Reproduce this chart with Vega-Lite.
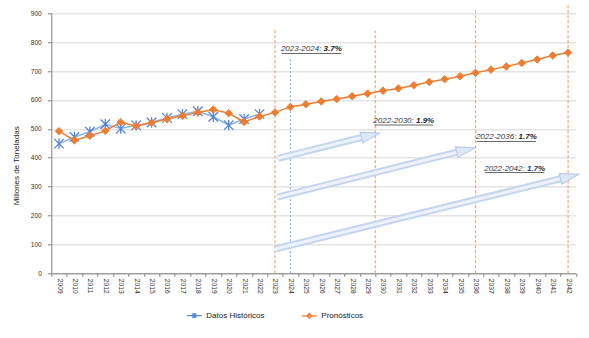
{
  "$schema": "https://vega.github.io/schema/vega-lite/v6.json",
  "width": 524.5,
  "height": 260,
  "autosize": "none",
  "padding": {"left": 51.3, "top": 13.3, "right": 13.2, "bottom": 64.7},
  "background": "white",
  "config": {
    "view": {"stroke": null},
    "font": "Liberation Sans",
    "axis": {"labelFont": "Liberation Sans", "titleFont": "Liberation Sans"},
    "legend": {"labelFont": "Liberation Sans"},
    "text": {"font": "Liberation Sans"}
  },
  "resolve": {"axis": {"x": "independent", "y": "independent"}},
  "datasets": {
    "series": [
      {"year": 2009, "series": "Datos Históricos", "value": 449},
      {"year": 2010, "series": "Datos Históricos", "value": 472},
      {"year": 2011, "series": "Datos Históricos", "value": 490},
      {"year": 2012, "series": "Datos Históricos", "value": 516},
      {"year": 2013, "series": "Datos Históricos", "value": 501},
      {"year": 2014, "series": "Datos Históricos", "value": 512},
      {"year": 2015, "series": "Datos Históricos", "value": 522},
      {"year": 2016, "series": "Datos Históricos", "value": 538},
      {"year": 2017, "series": "Datos Históricos", "value": 551},
      {"year": 2018, "series": "Datos Históricos", "value": 561},
      {"year": 2019, "series": "Datos Históricos", "value": 542},
      {"year": 2020, "series": "Datos Históricos", "value": 513},
      {"year": 2021, "series": "Datos Históricos", "value": 534},
      {"year": 2022, "series": "Datos Históricos", "value": 551},
      {"year": 2009, "series": "Pronósticos", "value": 492},
      {"year": 2010, "series": "Pronósticos", "value": 460},
      {"year": 2011, "series": "Pronósticos", "value": 476},
      {"year": 2012, "series": "Pronósticos", "value": 493},
      {"year": 2013, "series": "Pronósticos", "value": 523},
      {"year": 2014, "series": "Pronósticos", "value": 510},
      {"year": 2015, "series": "Pronósticos", "value": 521},
      {"year": 2016, "series": "Pronósticos", "value": 534},
      {"year": 2017, "series": "Pronósticos", "value": 545},
      {"year": 2018, "series": "Pronósticos", "value": 557},
      {"year": 2019, "series": "Pronósticos", "value": 567},
      {"year": 2020, "series": "Pronósticos", "value": 554},
      {"year": 2021, "series": "Pronósticos", "value": 524},
      {"year": 2022, "series": "Pronósticos", "value": 543},
      {"year": 2023, "series": "Pronósticos", "value": 557},
      {"year": 2024, "series": "Pronósticos", "value": 576},
      {"year": 2025, "series": "Pronósticos", "value": 585},
      {"year": 2026, "series": "Pronósticos", "value": 595},
      {"year": 2027, "series": "Pronósticos", "value": 603},
      {"year": 2028, "series": "Pronósticos", "value": 613},
      {"year": 2029, "series": "Pronósticos", "value": 622},
      {"year": 2030, "series": "Pronósticos", "value": 632},
      {"year": 2031, "series": "Pronósticos", "value": 640},
      {"year": 2032, "series": "Pronósticos", "value": 651},
      {"year": 2033, "series": "Pronósticos", "value": 662},
      {"year": 2034, "series": "Pronósticos", "value": 672},
      {"year": 2035, "series": "Pronósticos", "value": 682},
      {"year": 2036, "series": "Pronósticos", "value": 694},
      {"year": 2037, "series": "Pronósticos", "value": 705},
      {"year": 2038, "series": "Pronósticos", "value": 716},
      {"year": 2039, "series": "Pronósticos", "value": 728},
      {"year": 2040, "series": "Pronósticos", "value": 740},
      {"year": 2041, "series": "Pronósticos", "value": 754},
      {"year": 2042, "series": "Pronósticos", "value": 764}
    ],
    "vlines": [
      {"year": 2023, "kind": "orange", "bottom": 0, "top": 848},
      {"year": 2029.5, "kind": "orange", "bottom": 0, "top": 840},
      {"year": 2036, "kind": "orange", "bottom": 0, "top": 911},
      {"year": 2042, "kind": "orange", "bottom": 0, "top": 929},
      {"year": 2024, "kind": "blue", "bottom": 0, "top": 744}
    ],
    "arrows": [
      {"year": 2023.2, "value": 398, "year2": 2028.61, "value2": 470.1, "tipYear": 2029.8, "tipValue": 486},
      {"year": 2023.16, "value": 264, "year2": 2034.79, "value2": 419.1, "tipYear": 2035.98, "tipValue": 435},
      {"year": 2023.07, "value": 85, "year2": 2041.51, "value2": 327.3, "tipYear": 2042.7, "tipValue": 343}
    ],
    "labels": [
      {"id": "A", "lead": "2023-2024:", "num": "3.7%", "year": 2026.15, "value": 767.8, "uStart": 2023.44, "uEnd": 2027.31, "uValue": 760.8},
      {"id": "B", "lead": "2022-2030:", "num": "1.9%", "year": 2032.14, "value": 520.3, "uStart": 2029.44, "uEnd": 2033.26, "uValue": 513.3},
      {"id": "C", "lead": "2022-2036:", "num": "1.7%", "year": 2038.79, "value": 463.2, "uStart": 2036.08, "uEnd": 2039.92, "uValue": 456.2},
      {"id": "D", "lead": "2022-2042:", "num": "1.7", "year": 2039.33, "value": 355.8, "uStart": 2036.61, "uEnd": 2040.46, "uValue": 348.9}
    ],
    "pct": [
      {"text": "%", "year": 2040.05, "value": 355.8}
    ]
  },
  "layer": [
    {
      "data": {"name": "vlines"},
      "transform": [{"filter": "datum.kind == 'orange'"}],
      "mark": {"type": "rule", "color": "#f5a36b", "strokeWidth": 1.2, "strokeDash": [3, 2]},
      "encoding": {
        "x": {
          "field": "year", "type": "quantitative",
          "scale": {"domain": [2008.5, 2042.5], "nice": false, "zero": false},
          "axis": {
            "title": null,
            "values": [2008.5, 2009.5, 2010.5, 2011.5, 2012.5, 2013.5, 2014.5, 2015.5, 2016.5, 2017.5, 2018.5, 2019.5, 2020.5, 2021.5, 2022.5, 2023.5, 2024.5, 2025.5, 2026.5, 2027.5, 2028.5, 2029.5, 2030.5, 2031.5, 2032.5, 2033.5, 2034.5, 2035.5, 2036.5, 2037.5, 2038.5, 2039.5, 2040.5, 2041.5, 2042.5],
            "labelExpr": "datum.value < 2042 ? format(datum.value + 0.5, 'd') : ''",
            "labelAngle": 90,
            "labelOffset": 7.71,
            "labelFontSize": 6.7,
            "labelColor": "#333333",
            "labelPadding": 2,
            "labelOverlap": false,
            "labelFlush": false,
            "labelBound": false,
            "tickSize": 3,
            "tickColor": "#808080",
            "domainColor": "#808080",
            "grid": false
          }
        },
        "y": {
          "field": "bottom", "type": "quantitative",
          "scale": {"domain": [0, 900], "nice": false, "zero": true},
          "axis": {
            "title": "Millones de Toneladas",
            "values": [0, 100, 200, 300, 400, 500, 600, 700, 800, 900],
            "grid": true,
            "gridColor": "#e4e4e4",
            "gridWidth": 1.5,
            "labelFontSize": 6.6,
            "labelColor": "#333333",
            "labelPadding": 6,
            "labelOverlap": false,
            "tickSize": 4,
            "tickColor": "#808080",
            "domainColor": "#808080",
            "titleFontSize": 8,
            "titleFontWeight": "normal",
            "titleColor": "#222222",
            "titleAngle": -90,
            "titleX": -35.3,
            "titleY": 152,
            "titleAlign": "center",
            "titleBaseline": "middle"
          }
        },
        "y2": {"field": "top"}
      }
    },
    {
      "data": {"name": "vlines"},
      "transform": [{"filter": "datum.kind == 'blue'"}],
      "mark": {"type": "rule", "color": "#7f9fd6", "strokeWidth": 1, "strokeDash": [2, 2]},
      "encoding": {
        "x": {"field": "year", "type": "quantitative", "axis": null},
        "y": {"field": "bottom", "type": "quantitative", "axis": null},
        "y2": {"field": "top"}
      }
    },
    {
      "data": {"name": "arrows"},
      "mark": {"type": "rule", "color": "#c4d5ef", "strokeWidth": 7, "strokeCap": "butt"},
      "encoding": {
        "x": {"field": "year", "type": "quantitative", "axis": null},
        "y": {"field": "value", "type": "quantitative", "axis": null},
        "x2": {"field": "year2"},
        "y2": {"field": "value2"}
      }
    },
    {
      "data": {"name": "arrows"},
      "mark": {"type": "rule", "color": "#eef3fb", "strokeWidth": 3, "strokeCap": "butt"},
      "encoding": {
        "x": {"field": "year", "type": "quantitative", "axis": null},
        "y": {"field": "value", "type": "quantitative", "axis": null},
        "x2": {"field": "year2"},
        "y2": {"field": "value2"}
      }
    },
    {
      "data": {"name": "arrows"},
      "mark": {"type": "point", "shape": "M 0 0 L -2 -0.58 L -2 0.58 Z", "size": 361, "angle": -14, "filled": true, "fill": "#dde7f6", "stroke": "#b3c7ea", "strokeWidth": 1, "opacity": 1},
      "encoding": {
        "x": {"field": "tipYear", "type": "quantitative", "axis": null},
        "y": {"field": "tipValue", "type": "quantitative", "axis": null}
      }
    },
    {
      "data": {"name": "series"},
      "transform": [{"filter": "datum.series == 'Datos Históricos'"}],
      "mark": {"type": "line", "color": "#8db3e2", "strokeWidth": 1.5},
      "encoding": {
        "x": {"field": "year", "type": "quantitative", "axis": null},
        "y": {"field": "value", "type": "quantitative", "axis": null}
      }
    },
    {
      "data": {"name": "series"},
      "transform": [{"filter": "datum.series == 'Datos Históricos'"}],
      "mark": {"type": "point", "shape": "M -1 -1 L 1 1 M -1 1 L 1 -1 M 0 -1.1 L 0 1.1", "size": 90, "filled": false, "stroke": "#4f7fd6", "strokeWidth": 1.2, "opacity": 1},
      "encoding": {
        "x": {"field": "year", "type": "quantitative", "axis": null},
        "y": {"field": "value", "type": "quantitative", "axis": null}
      }
    },
    {
      "data": {"name": "series"},
      "transform": [{"filter": "datum.series == 'Pronósticos'"}],
      "mark": {"type": "line", "color": "#ed7d31", "strokeWidth": 1.5},
      "encoding": {
        "x": {"field": "year", "type": "quantitative", "axis": null},
        "y": {"field": "value", "type": "quantitative", "axis": null}
      }
    },
    {
      "data": {"name": "series"},
      "transform": [{"filter": "datum.series == 'Pronósticos'"}],
      "mark": {"type": "point", "shape": "diamond", "size": 55, "filled": true, "color": "#ed7d31", "stroke": "#ed7d31", "strokeWidth": 1, "opacity": 1},
      "encoding": {
        "x": {"field": "year", "type": "quantitative", "axis": null},
        "y": {"field": "value", "type": "quantitative", "axis": null}
      }
    },
    {
      "data": {"name": "series"},
      "mark": {"type": "point", "filled": false, "opacity": 0},
      "encoding": {
        "x": {"field": "year", "type": "quantitative", "axis": null},
        "y": {"field": "value", "type": "quantitative", "axis": null},
        "color": {
          "field": "series", "type": "nominal",
          "scale": {"domain": ["Datos Históricos", "Pronósticos"], "range": ["#5b8bd8", "#ed7d31"]},
          "legend": {
            "title": null,
            "orient": "none",
            "legendX": 139,
            "legendY": 298,
            "direction": "horizontal",
            "labelFontSize": 8,
            "labelColor": "#222222",
            "symbolSize": 36,
            "symbolStrokeWidth": 1.3,
            "symbolOpacity": 1,
            "labelOffset": 8,
            "columnPadding": 33,
            "padding": 0
          }
        },
        "shape": {
          "field": "series", "type": "nominal",
          "scale": {"domain": ["Datos Históricos", "Pronósticos"], "range": ["M -2.5 0 L 2.5 0 M -0.7 -0.7 L 0.7 0.7 M -0.7 0.7 L 0.7 -0.7 M 0 -0.9 L 0 0.9", "M -2.5 0 L 2.5 0 M -0.8 0 L 0 -0.8 L 0.8 0 L 0 0.8 Z"]}
        }
      }
    },
    {
      "data": {"name": "labels"},
      "mark": {"type": "text", "align": "right", "baseline": "alphabetic", "fontSize": 8, "fontStyle": "italic", "color": "#333333", "dx": -2.2},
      "encoding": {
        "x": {"field": "year", "type": "quantitative", "axis": null},
        "y": {"field": "value", "type": "quantitative", "axis": null},
        "text": {"field": "lead"}
      }
    },
    {
      "data": {"name": "labels"},
      "mark": {"type": "text", "align": "left", "baseline": "alphabetic", "fontSize": 8, "fontStyle": "italic", "fontWeight": "bold"},
      "encoding": {
        "x": {"field": "year", "type": "quantitative", "axis": null},
        "y": {"field": "value", "type": "quantitative", "axis": null},
        "text": {"field": "num"},
        "color": {"condition": {"test": "datum.id == 'D'", "value": "#2036a8"}, "value": "#222222"}
      }
    },
    {
      "data": {"name": "pct"},
      "mark": {"type": "text", "align": "left", "baseline": "alphabetic", "fontSize": 8, "fontStyle": "italic", "fontWeight": "bold", "color": "#222222"},
      "encoding": {
        "x": {"field": "year", "type": "quantitative", "axis": null},
        "y": {"field": "value", "type": "quantitative", "axis": null},
        "text": {"field": "text"}
      }
    },
    {
      "data": {"name": "labels"},
      "mark": {"type": "rule", "color": "#444444", "strokeWidth": 0.8},
      "encoding": {
        "x": {"field": "uStart", "type": "quantitative", "axis": null},
        "x2": {"field": "uEnd"},
        "y": {"field": "uValue", "type": "quantitative", "axis": null}
      }
    }
  ]
}
